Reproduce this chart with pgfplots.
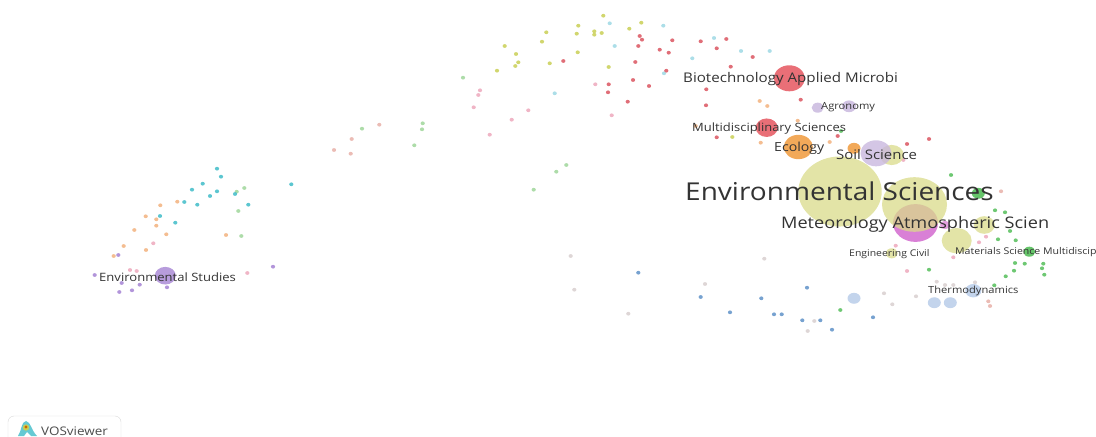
\documentclass[border=0pt]{standalone}
\usepackage{pgfplots}
\pgfplotsset{compat=1.18}
\usepackage{fontspec}
\setmainfont{Open Sans}
\definecolor{cYel}{HTML}{D9DB8A}
\definecolor{cOli}{HTML}{C9CF55}
\definecolor{cLbl}{HTML}{9ED8E4}
\definecolor{cRed}{HTML}{DB5560}
\definecolor{cPnk}{HTML}{EDA8BC}
\definecolor{cLgr}{HTML}{9FD69A}
\definecolor{cGrn}{HTML}{55BE5A}
\definecolor{cTea}{HTML}{3FBCC8}
\definecolor{cOrg}{HTML}{F2B27E}
\definecolor{cPur}{HTML}{A583D3}
\definecolor{cLil}{HTML}{C9B8DE}
\definecolor{cBlu}{HTML}{5F92C8}
\definecolor{cLbu}{HTML}{BCCFEA}
\definecolor{cGry}{HTML}{D8CFCF}
\definecolor{cSal}{HTML}{E8B0A8}
\definecolor{cMag}{HTML}{D060CC}
\definecolor{cBOr}{HTML}{F09A3C}
\definecolor{cBRd}{HTML}{E5565F}
\definecolor{cTxt}{HTML}{333333}
\newcommand{\pts}[3][2.1]{\addplot[only marks,mark=*,mark size=#1bp,color=#2,mark options={draw opacity=0,fill opacity=.85,yscale=.9}] coordinates {#3};}
\newcommand{\bub}[5][.75]{\addplot[only marks,mark=*,mark size=#3bp,color=#2,mark options={draw opacity=0,fill opacity=#1,yscale=.84}] coordinates {(#4,#5)};}
\newcommand{\lab}[4]{\node[anchor=west,inner sep=0pt,yscale=.88,text=cTxt,font=\fontsize{#1}{#1}\selectfont] at ({#2*1bp},{(436-#3)*1bp}) {#4};}
\begin{document}
\begin{tikzpicture}
\useasboundingbox (0,0) rectangle (1096bp,437bp);
\begin{axis}[at={(0,0)},anchor=south west,scale only axis,width=1096bp,height=437bp,
  xmin=0,xmax=1096,ymin=0,ymax=437,y dir=reverse,hide axis,clip=true]
% small dots
\pts{cOli}{(603.3,15.7)(578.3,25.7)(594.3,31.3)(594.3,34.7)(601.7,33)(576.7,33.7)(641.3,22.7)(629.3,28.7)(546.3,32.3)(542,41.7)(504.7,46)(516,54)(518.3,62.3)(515.3,66)(497,70.7)(549.7,63.3)(577.7,52.3)(608.7,67)}
\pts{cLbl}{(609.7,23.3)(663.3,25.7)(614.7,46)(692.3,58.3)(664,73.3)(554.7,93.3)(714,38)(741,51)(769.7,51)}
\pts{cRed}{(639.7,36)(642,39.7)(638.3,46)(672.3,40.3)(659.7,49.7)(668.7,52.7)(635.3,62)(563.3,61)(666.3,70.7)(633,80)(649,86)(608.7,84.3)(608,92.3)(627.7,101.7)(700.7,41.3)(726.3,39)(716.7,48.3)(752.7,57)(730.7,66.7)(706.3,89.3)(706,105.3)(800.7,99.7)(716.7,137.3)(837.7,136)(929,139)(907,144)}
\pts{cPnk}{(595.3,84.3)(480,90.3)(478.3,95)(473.7,107.3)(528.3,110.3)(511.7,119.7)(489.7,134.7)(611.7,115.3)(895.7,245.7)(979,242.3)(986,236.7)(953.3,257.3)(907,271)(903.3,160)}
\pts{cLgr}{(463,77.7)(422.7,123.3)(422,129.3)(414.3,145.3)(566.3,165)(556.3,171.7)(533.7,189.7)(362,128.7)(244.3,188)(236.7,191.7)(238.3,211)(241.3,236)}
\pts{cSal}{(379.3,124.7)(351.7,139)(334,150)(350.7,153.7)(1001,191.3)(988.3,301.3)(990,306)}
\pts{cTea}{(217,168.7)(221,176.7)(202.7,183.7)(192,189.7)(217,191.3)(210,196)(235,194)(184.3,202)(197.3,204.7)(248.3,204.7)(160,216)(175.3,222.7)(291.3,184.3)}
\pts{cOrg}{(177.3,201.7)(160.3,205.3)(145.7,216.3)(156.3,219.3)(156.3,225.7)(134.3,230)(166.3,234.3)(226,235)(123.7,246)(146,250)(113.7,256)(759.7,101)(767.3,106)(797.7,120.7)(695.7,126)(760.7,142.7)(829.7,142)}
\pts{cPur}{(118.3,255)(94.7,275)(121.7,283)(139.7,284.7)(119.3,292)(132,290.3)(167,287.3)(273,266.7)}
\pts{cPnk}{(153.3,243.3)(130,270)(136.7,271)(247.3,273)}
\pts{cGry}{(570.7,256)(574.3,289.7)(628.3,313.7)(705,284)(764.3,258.7)(814.3,321)(807.7,331)(936.7,281.7)(953.3,285)(945,285)(975,282.3)(916,296.3)(884,293.3)(892.3,304.3)}
\pts{cBlu}{(638.3,272.7)(700.7,297)(730,312.3)(761.3,298.3)(774,314.3)(781.7,314.3)(807,287.7)(802.3,320.3)(820.3,320.3)(832,329.7)(873,317.3)}
\pts{cGrn}{(951,175)(995,210.3)(1005,212.3)(1010,231)(998,239.3)(1015.7,240.3)(1015,263)(1024.7,263.7)(1043.3,263.7)(1042,268.3)(1014,270.7)(1044.3,274.7)(1005.7,276.3)(994.3,285.3)(929,269.7)(840.3,310)(841,131)}
\pts{cOli}{(732.3,137)}
% bubbles
\bub[.8]{cMag}{22.5}{915.5}{223}
\bub[.6]{cMag}{5}{945}{225}
\bub{cYel}{41.7}{840}{191.5}
\bub{cYel}{32.5}{914.5}{204.5}
\bub{cYel}{10.5}{984.3}{225}
\bub{cYel}{15}{956.7}{240.7}
\bub{cYel}{6}{891.7}{253.3}
\bub[.9]{cGrn}{6.5}{978.3}{193.3}
\bub[.9]{cGrn}{6}{1029.3}{251.7}
\bub[.9]{cLbu}{6.5}{854}{298.3}
\bub[.9]{cLbu}{6.5}{934.3}{302.7}
\bub[.9]{cLbu}{6.5}{950.3}{302.7}
\bub[.9]{cLbu}{8}{973.3}{290.7}
\bub[.85]{cBRd}{15.5}{789.3}{78.3}
\bub[.85]{cBRd}{11}{766.7}{127.7}
\bub[.85]{cBOr}{14.5}{798.3}{147}
\bub[.85]{cBOr}{6.5}{854}{148.3}
\bub{cYel}{12}{891.7}{155}
\bub[.8]{cLil}{15.5}{876}{153.3}
\bub[.85]{cLil}{6}{817.7}{107.7}
\bub[.85]{cLil}{7}{849}{106.3}
\bub[.8]{cPur}{10.5}{165.3}{275.7}
\end{axis}
% labels
\lab{15.2}{683}{78}{Biotechnology Applied Microbi}
\lab{11.2}{821}{106}{Agronomy}
\lab{13}{692}{128}{Multidisciplinary Sciences}
\lab{14.2}{774}{147}{Ecology}
\lab{15}{836}{153.5}{Soil Science}
\lab{28.1}{685}{190}{Environmental Sciences}
\lab{18.2}{781}{223}{Meteorology Atmospheric Scien}
\lab{10.5}{849}{253.5}{Engineering Civil}
\lab{10.6}{955}{251.5}{Materials Science Multidiscip}
\lab{11.2}{928}{289.5}{Thermodynamics}
\lab{13.1}{99}{276}{Environmental Studies}
% VOSviewer badge
\begin{scope}
\clip (0,0) rectangle (1096bp,437bp);
\draw[draw=black!15,fill=white,rounded corners=6bp] (8bp,-10bp) rectangle (121bp,21bp);
\fill[cTea!80] (18bp,1bp) .. controls (22bp,7bp) and (21bp,15bp) .. (26bp,16bp) .. controls (31bp,15bp) and (31bp,7bp) .. (37bp,1bp) -- (31bp,1bp) -- (27bp,5bp) -- (24bp,1bp) -- cycle;
\fill[cOli] (26bp,9.5bp) circle[radius=3.2bp];
\fill[orange!80!black] (26bp,10bp) circle[radius=1.7bp];
\node[anchor=base west,inner sep=0pt,yscale=.88,text=black!70,font=\fontsize{13.5}{14}\selectfont] at (41bp,1.5bp) {VOSviewer};
\end{scope}
\end{tikzpicture}
\end{document}
